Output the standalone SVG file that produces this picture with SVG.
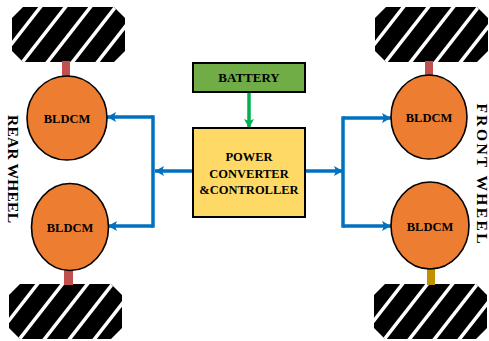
<svg xmlns="http://www.w3.org/2000/svg" xmlns:xlink="http://www.w3.org/1999/xlink" width="489" height="341" viewBox="0 0 489 341">
<style>
text{font-family:"Liberation Serif","Times New Roman",serif;font-weight:bold;fill:#000;}
.lbl{font-size:12.5px;text-anchor:middle;}
.side{font-size:15.5px;text-anchor:middle;}
.motor{fill:#ED7D31;stroke:#000;stroke-width:1.6;}
.blue{fill:none;stroke:#0070C0;stroke-width:3.5;}
.green{fill:none;stroke:#00B050;stroke-width:3.5;}
.stripe{stroke:#fff;stroke-width:3.5;}
</style>
<defs>
<clipPath id="wclip"><polygon points="11,0 102,0 113,11 113,44 102,55 11,55 0,44 0,11"/></clipPath>
<g id="wheel">
<polygon points="11,0 102,0 113,11 113,44 102,55 11,55 0,44 0,11" fill="#000"/>
<g clip-path="url(#wclip)">
<line class="stripe" x1="30" y1="-2" x2="-16" y2="57"/>
<line class="stripe" x1="55" y1="-2" x2="9" y2="57"/>
<line class="stripe" x1="80" y1="-2" x2="34" y2="57"/>
<line class="stripe" x1="105" y1="-2" x2="59" y2="57"/>
<line class="stripe" x1="130" y1="-2" x2="84" y2="57"/>
</g>
</g>
<marker id="ab" markerUnits="userSpaceOnUse" markerWidth="12" markerHeight="12" refX="9" refY="5" orient="auto">
<path d="M0,0 L9,5 L0,10 L2,5 z" fill="#0070C0"/>
</marker>
<marker id="ag" markerUnits="userSpaceOnUse" markerWidth="12" markerHeight="12" refX="9" refY="5" orient="auto">
<path d="M0,0 L9,5 L0,10 L2,5 z" fill="#00B050"/>
</marker>
</defs>

<g id="wheel-tl"><use xlink:href="#wheel" href="#wheel" x="12" y="7"/></g>
<g id="wheel-tr"><use xlink:href="#wheel" href="#wheel" x="375" y="7"/></g>
<g id="wheel-bl"><use xlink:href="#wheel" href="#wheel" x="9" y="284"/></g>
<g id="wheel-br"><use xlink:href="#wheel" href="#wheel" x="374" y="284"/></g>

<g id="shafts">
<rect x="62" y="61" width="8" height="18" fill="#C0504D"/>
<rect x="425" y="61" width="8" height="17" fill="#C0504D"/>
<rect x="64" y="268" width="9" height="17" fill="#C0504D"/>
<rect x="427" y="267" width="8" height="18" fill="#BF9000"/>
</g>

<g id="connectors">
<path class="green" d="M249,93 V128" marker-end="url(#ag)"/>
<path class="blue" d="M193,171 H155" marker-end="url(#ab)"/>
<path class="blue" d="M153,115.3 V227.7"/>
<path class="blue" d="M153,117 H107" marker-end="url(#ab)"/>
<path class="blue" d="M153,226 H108" marker-end="url(#ab)"/>
<path class="blue" d="M305,171 H343" marker-end="url(#ab)"/>
<path class="blue" d="M343,116.3 V227.7"/>
<path class="blue" d="M343,118 H391" marker-end="url(#ab)"/>
<path class="blue" d="M343,226 H391" marker-end="url(#ab)"/>
</g>

<g id="motor-tl"><ellipse class="motor" cx="67" cy="118" rx="40" ry="42"/><text class="lbl" x="67" y="122.5">BLDCM</text></g>
<g id="motor-bl"><ellipse class="motor" cx="70" cy="227" rx="38.5" ry="43.5"/><text class="lbl" x="70" y="232">BLDCM</text></g>
<g id="motor-tr"><ellipse class="motor" cx="429" cy="117" rx="38" ry="42"/><text class="lbl" x="429" y="121.5">BLDCM</text></g>
<g id="motor-br"><ellipse class="motor" cx="430" cy="225.5" rx="39" ry="43.5"/><text class="lbl" x="430" y="230.5">BLDCM</text></g>

<g id="battery">
<rect x="193" y="63" width="112" height="29" fill="#70AD47" stroke="#000" stroke-width="2"/>
<text class="lbl" x="249" y="81.5" style="font-size:13px">BATTERY</text>
</g>

<g id="controller">
<rect x="193" y="128" width="112" height="89" fill="#FFD966" stroke="#000" stroke-width="2"/>
<text class="lbl" x="249" y="160.5">POWER</text>
<text class="lbl" x="249" y="177.5">CONVERTER</text>
<text class="lbl" x="249" y="193.5">&amp;CONTROLLER</text>
</g>

<g id="labels">
<text class="side" transform="translate(8,169) rotate(90)" textLength="108" lengthAdjust="spacing">REAR WHEEL</text>
<text class="side" transform="translate(476.5,173.5) rotate(90)" textLength="140" lengthAdjust="spacing">FRONT WHEEL</text>
</g>
</svg>
